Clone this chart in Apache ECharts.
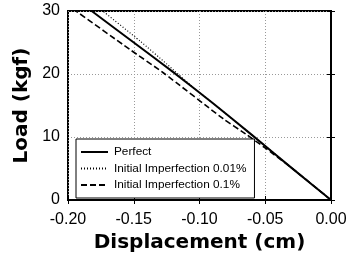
<!DOCTYPE html>
<html>
<head>
<meta charset="utf-8">
<script src="https://cdn.jsdelivr.net/npm/echarts@6/dist/echarts.min.js"></script>
<style>html,body{margin:0;padding:0;background:#fff}#c{width:356px;height:267px}</style>
</head>
<body>
<div id="c"></div>
<script>
var seriesNames = ['Perfect', 'Initial Imperfection 0.01%', 'Initial Imperfection 0.1%'];
var perfectX = [0, -0.03, -0.06, -0.09, -0.12, -0.15, -0.182];
var perfectY = [0, 5.1, 10.3, 15.4, 20.3, 25.0, 30];
var imp001X = [0, -0.03, -0.06, -0.09, -0.105, -0.125, -0.145, -0.1736];
var imp001Y = [0, 5.1, 10.3, 15.4, 17.9, 21.6, 25.2, 30];
var imp01X = [0, -0.03, -0.049, -0.065, -0.082, -0.1276, -0.153, -0.194];
var imp01Y = [0, 5.1, 8.1, 10.5, 12.9, 20.2, 23.9, 30];
var xTicks = [-0.20, -0.15, -0.10, -0.05, 0.00];
var yTicks = [0, 10, 20, 30];

function pairs(xs, ys) { return xs.map(function (x, i) { return [x, ys[i]]; }); }

var chart = echarts.init(document.getElementById('c'), null, {renderer: 'canvas'});
var font = 'Liberation Sans, Arial, sans-serif';
var titleFont = 'DejaVu Sans, Arial, sans-serif';
var gridLine = {show: true, lineStyle: {color: '#999', type: [1, 2], width: 1}};
chart.setOption({
  animation: false,
  backgroundColor: '#fff',
  grid: {left: 68, right: 25, top: 11, bottom: 67, show: true, borderColor: '#000', borderWidth: 2, backgroundColor: 'transparent'},
  legend: {
    orient: 'vertical', left: 76, top: 139,
    data: seriesNames,
    itemWidth: 27, itemHeight: 10, itemGap: 4.5,
    padding: [7, 8, 7, 4],
    borderColor: '#000', borderWidth: 1, borderRadius: 0,
    backgroundColor: '#fff',
    itemStyle: {opacity: 0},
    textStyle: {fontFamily: font, fontSize: 11.8, color: '#000', padding: [0, 0, 0, 1]}
  },
  xAxis: [{
    type: 'value', min: xTicks[0], max: xTicks[xTicks.length - 1], interval: 0.05,
    name: 'Displacement (cm)', nameLocation: 'middle', nameGap: 33,
    nameTextStyle: {fontFamily: titleFont, fontWeight: 'bold', fontSize: 20, color: '#000'},
    axisLine: {show: true, lineStyle: {color: '#000', width: 2}},
    axisTick: {show: true, inside: true, length: 4, lineStyle: {color: '#000'}},
    axisLabel: {fontFamily: font, fontSize: 16, color: '#000', margin: 12, formatter: function (v) { return v.toFixed(2); }},
    splitLine: gridLine
  }, {
    type: 'value', position: 'top', min: xTicks[0], max: 0, interval: 0.05,
    axisLine: {show: true, lineStyle: {color: '#000', width: 2}},
    axisTick: {show: true, inside: true, length: 4, lineStyle: {color: '#000'}},
    axisLabel: {show: false}, splitLine: {show: false}
  }],
  yAxis: [{
    type: 'value', min: yTicks[0], max: yTicks[yTicks.length - 1], interval: 10,
    name: 'Load (kgf)', nameLocation: 'middle', nameGap: 36, nameRotate: 90,
    nameTextStyle: {fontFamily: titleFont, fontWeight: 'bold', fontSize: 20, color: '#000'},
    axisLine: {show: true, lineStyle: {color: '#000', width: 2}},
    axisTick: {show: true, inside: true, length: 4, lineStyle: {color: '#000'}},
    axisLabel: {fontFamily: font, fontSize: 16, color: '#000', margin: 8},
    splitLine: gridLine
  }, {
    type: 'value', position: 'right', min: 0, max: 30, interval: 10,
    axisLine: {show: true, lineStyle: {color: '#000', width: 2}},
    axisTick: {show: true, inside: true, length: 4, lineStyle: {color: '#000'}},
    axisLabel: {show: false}, splitLine: {show: false}
  }],
  series: [{
    name: seriesNames[0], type: 'line', data: pairs(perfectX, perfectY), smooth: 0.2,
    showSymbol: false, symbol: 'none', lineStyle: {color: '#000', width: 2, type: 'solid'}, itemStyle: {color: '#000'}
  }, {
    name: seriesNames[1], type: 'line', data: pairs(imp001X, imp001Y), smooth: 0.2,
    showSymbol: false, symbol: 'none', lineStyle: {color: '#000', width: 1.2, type: [1, 2]}, itemStyle: {color: '#000'}
  }, {
    name: seriesNames[2], type: 'line', data: pairs(imp01X, imp01Y), smooth: 0.2,
    showSymbol: false, symbol: 'none', lineStyle: {color: '#000', width: 1.6, type: [6, 3]}, itemStyle: {color: '#000'}
  }]
});
</script>
</body>
</html>
